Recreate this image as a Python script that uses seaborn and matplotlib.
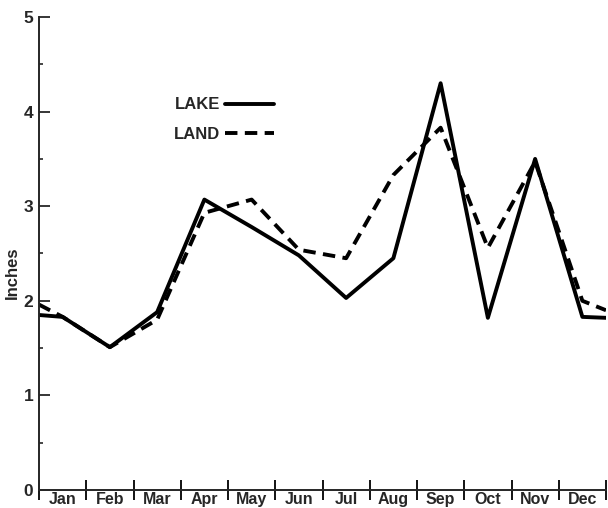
import matplotlib
matplotlib.use("Agg")
import matplotlib.pyplot as plt
import numpy as np
import pandas as pd
import seaborn as sns
from matplotlib.ticker import FixedLocator

sns.set_style("ticks")
plt.rcParams['font.family'] = ['Liberation Sans', 'DejaVu Sans']
plt.rcParams['font.weight'] = 'bold'

# monthly precipitation, inches
months = ['Jan', 'Feb', 'Mar', 'Apr', 'May', 'Jun', 'Jul', 'Aug', 'Sep', 'Oct', 'Nov', 'Dec']
lake = [1.83, 1.51, 1.88, 3.07, 2.78, 2.48, 2.03, 2.45, 4.30, 1.82, 3.50, 1.83]
land = [1.83, 1.51, 1.80, 2.93, 3.07, 2.54, 2.45, 3.33, 3.83, 2.56, 3.47, 2.00]
# line values where the curves run into the left and right edges
lake_edges = [1.85, 1.82]
land_edges = [1.96, 1.90]
y_ticks = [0, 1, 2, 3, 4, 5]

rows = []
for name, vals, edges in [('LAKE', lake, lake_edges), ('LAND', land, land_edges)]:
    xs = [0.0] + [i + 0.5 for i in range(len(months))] + [float(len(months))]
    ys = [edges[0]] + vals + [edges[1]]
    for x, y in zip(xs, ys):
        rows.append({'x': x, 'inches': y, 'series': name})
df = pd.DataFrame(rows)

fig = plt.figure(figsize=(6.08, 5.08), dpi=100)
ax = fig.add_axes([39 / 608, 18 / 508, 567 / 608, 473 / 508])

sns.lineplot(data=df, x='x', y='inches', style='series', color='black',
             dashes={'LAKE': '', 'LAND': (3.2, 1.9)}, linewidth=2.8,
             sort=False, estimator=None, ax=ax)

ax.set_xlim(0, len(months))
ax.set_ylim(0, 5)

# month separators as major ticks, labels on the minor positions
ax.xaxis.set_major_locator(FixedLocator(range(len(months) + 1)))
ax.xaxis.set_minor_locator(FixedLocator([i + 0.5 for i in range(len(months))]))
ax.set_xticklabels([])
ax.set_xticklabels(months, minor=True)
ax.tick_params(axis='x', which='major', direction='inout', length=15, width=1.3, color='black')
ax.tick_params(axis='x', which='minor', length=0, pad=1.5, labelsize=11.5)

ax.set_yticks(y_ticks)
ax.yaxis.set_minor_locator(FixedLocator([v + 0.5 for v in y_ticks[:-1]]))
ax.tick_params(axis='y', which='major', direction='in', length=8, width=1.3, pad=4, labelsize=12.5)
ax.tick_params(axis='y', which='minor', direction='in', length=3, width=1.2)

for lbl in ax.get_xticklabels(minor=True) + ax.get_yticklabels():
    lbl.set_fontweight('bold')

sns.despine(ax=ax)
ax.spines['left'].set_linewidth(1.4)
ax.spines['bottom'].set_linewidth(1.4)

ax.set_xlabel('')
ax.set_ylabel('Inches', fontsize=12, fontweight='bold')
ax.yaxis.set_label_coords(-0.034, 0.46)

leg = ax.legend(loc='upper left', bbox_to_anchor=(0.238, 0.83), frameon=False,
                markerfirst=False, handlelength=2.95, handletextpad=0.3,
                labelspacing=0.85, borderpad=0, borderaxespad=0, fontsize=12)
for t in leg.get_texts():
    t.set_fontweight('bold')

fig.savefig('out.png', dpi=100)
